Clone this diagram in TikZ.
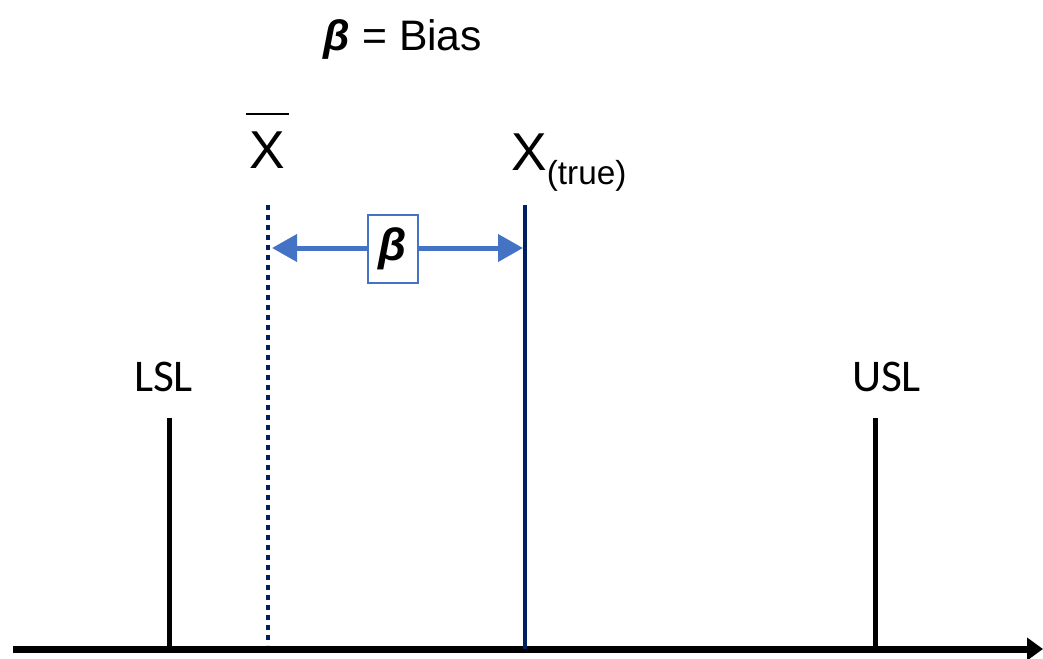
\documentclass[tikz,border=0pt]{standalone}
\usepackage{fontspec}
\setmainfont{Liberation Sans}
\newfontfamily\calibrifont{Carlito}
\usetikzlibrary{arrows.meta}
\definecolor{biasblue}{HTML}{4472C4}
\definecolor{navyline}{HTML}{002060}

\begin{document}
\begin{tikzpicture}[x=0.75pt, y=-0.75pt, >=Stealth,
    limitline/.style={line width=3.75pt, black},
    limitlabel/.style={anchor=base, inner sep=0pt, font=\calibrifont\fontsize{34}{34}\selectfont},
    meanlabel/.style={inner sep=0pt, font=\fontsize{40}{40}\selectfont},
    biasarrow/.style={line width=3.75pt, biasblue,
        {Triangle[length=18.75pt, width=20pt]}-{Triangle[length=18.75pt, width=20pt]}},
    betabox/.style={draw=biasblue, line width=1.1pt, fill=white, minimum width=37.5pt,
        minimum height=51pt, inner sep=0pt, font=\fontsize{34}{34}\selectfont\bfseries\itshape}]

    \useasboundingbox (0,0) rectangle (1043,658);

    % Axis
    \coordinate (axl) at (13,649);
    \coordinate (axr) at (1043,649);
    \draw[line width=5.25pt, -{Triangle[length=12pt, width=16.5pt]}] (axl) -- (axr);

    % Spec limits
    \foreach \name/\x/\lx/\txt in {lsl/169.5/163.5/LSL, usl/875/886.5/USL} {
        \coordinate (\name top) at (\x,418);
        \coordinate (\name bot) at (\x,649);
        \draw[limitline] (\name top) -- (\name bot);
        \node[limitlabel] (\name) at (\lx,391) {\txt};
    }

    % Mean lines
    \coordinate (xbartop) at (268,205);
    \coordinate (xbarbot) at (268,645);
    \draw[navyline, line width=3.5pt, dash pattern=on 3.5pt off 4pt] (xbartop) -- (xbarbot);
    \coordinate (xtruetop) at (525,205);
    \coordinate (xtruebot) at (525,649);
    \draw[navyline, line width=3.5pt] (xtruetop) -- (xtruebot);

    \node[meanlabel, anchor=base] (xbar) at (267.5,168) {X};
    \draw[line width=1.2pt] (246,114) -- (289,114);
    \node[meanlabel, anchor=base west] (xtrue) at (511,170)
        {X\raisebox{-11pt}{\fontsize{25}{25}\selectfont(true)}};

    % Bias
    \coordinate (biasl) at (272,248);
    \coordinate (biasr) at (523,248);
    \draw[biasarrow] (biasl) -- (biasr);
    \node[betabox] (beta) at (393,249) {β};

    % Title
    \node[anchor=base, inner sep=0pt, font=\fontsize{32}{32}\selectfont] (title) at (403,50)
        {{\bfseries\itshape β} = Bias};

\end{tikzpicture}
\end{document}
